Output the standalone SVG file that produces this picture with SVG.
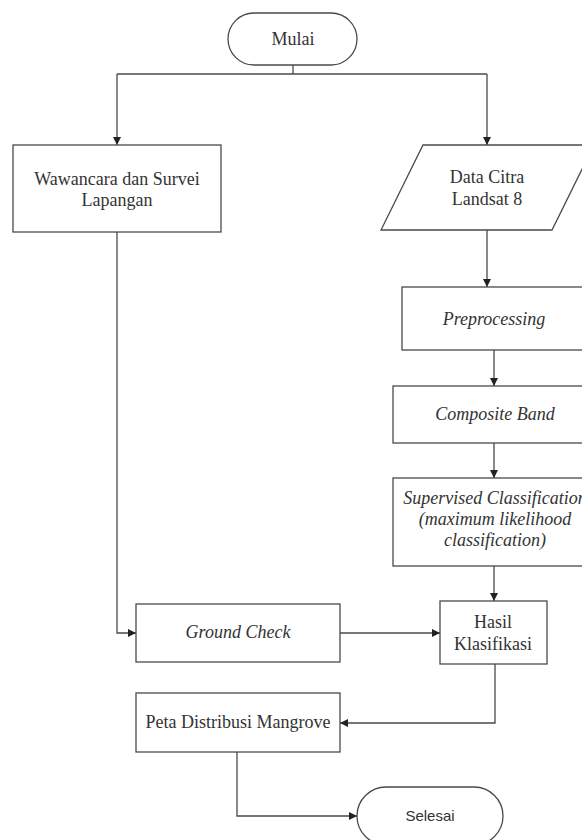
<svg xmlns="http://www.w3.org/2000/svg" width="582" height="840" viewBox="0 0 582 840">
<style>
.sh{fill:#fff;stroke:#4a4a4a;stroke-width:1.3}
.t{font-family:"Liberation Serif","Times New Roman",serif;font-size:18px;fill:#333;text-anchor:middle}
.i{font-style:italic}
.s{font-family:"Liberation Sans",Arial,sans-serif;font-size:15px;fill:#333;text-anchor:middle}
.c{fill:none;stroke:#4a4a4a;stroke-width:1.3}
</style>
<defs>
<marker id="a" viewBox="0 0 10 10" refX="10" refY="5" markerWidth="8" markerHeight="8" markerUnits="userSpaceOnUse" orient="auto">
<path d="M0,0 L10,5 L0,10 z" fill="#222"/>
</marker>
</defs>
<rect width="582" height="840" fill="#fff"/>
<g id="connectors">
<path class="c" d="M293,65 V74"/>
<path class="c" d="M117,74 H487"/>
<path class="c" d="M117,74 V145" marker-end="url(#a)"/>
<path class="c" d="M487,74 V145" marker-end="url(#a)"/>
<path class="c" d="M117,232 V633 H136" marker-end="url(#a)"/>
<path class="c" d="M487,230 V287" marker-end="url(#a)"/>
<path class="c" d="M494,350 V386" marker-end="url(#a)"/>
<path class="c" d="M494,443 V478" marker-end="url(#a)"/>
<path class="c" d="M494,566 V601" marker-end="url(#a)"/>
<path class="c" d="M340,633 H440" marker-end="url(#a)"/>
<path class="c" d="M495,664 V723 H340" marker-end="url(#a)"/>
<path class="c" d="M237,752 V816 H357" marker-end="url(#a)"/>
</g>
<g id="mulai">
<rect class="sh" x="228" y="13" width="129" height="52" rx="26" ry="26"/>
<text class="t" x="293" y="45">Mulai</text>
</g>
<g id="wawancara">
<rect class="sh" x="13" y="145" width="208" height="87"/>
<text class="t" x="117" y="185">Wawancara dan Survei</text>
<text class="t" x="117" y="206">Lapangan</text>
</g>
<g id="data-citra">
<polygon class="sh" points="423,145 594,145 552,230 381,230"/>
<text class="t" x="487" y="183">Data Citra</text>
<text class="t" x="487" y="205">Landsat 8</text>
</g>
<g id="preprocessing">
<rect class="sh" x="402" y="287" width="184" height="63"/>
<text class="t i" x="494" y="325">Preprocessing</text>
</g>
<g id="composite">
<rect class="sh" x="393" y="386" width="204" height="57"/>
<text class="t i" x="495" y="420">Composite Band</text>
</g>
<g id="supervised">
<rect class="sh" x="393" y="478" width="204" height="88"/>
<text class="t i" x="495" y="504">Supervised Classification</text>
<text class="t i" x="495" y="525">(maximum likelihood</text>
<text class="t i" x="495" y="546">classification)</text>
</g>
<g id="hasil">
<rect class="sh" x="440" y="601" width="107" height="63"/>
<text class="t" x="493" y="628">Hasil</text>
<text class="t" x="493" y="650">Klasifikasi</text>
</g>
<g id="ground-check">
<rect class="sh" x="136" y="604" width="204" height="58"/>
<text class="t i" x="238" y="638">Ground Check</text>
</g>
<g id="peta">
<rect class="sh" x="136" y="693" width="204" height="59"/>
<text class="t" x="238" y="728">Peta Distribusi Mangrove</text>
</g>
<g id="selesai">
<rect class="sh" x="357" y="787" width="146" height="58" rx="29" ry="29"/>
<text class="s" x="430" y="821">Selesai</text>
</g>
</svg>
